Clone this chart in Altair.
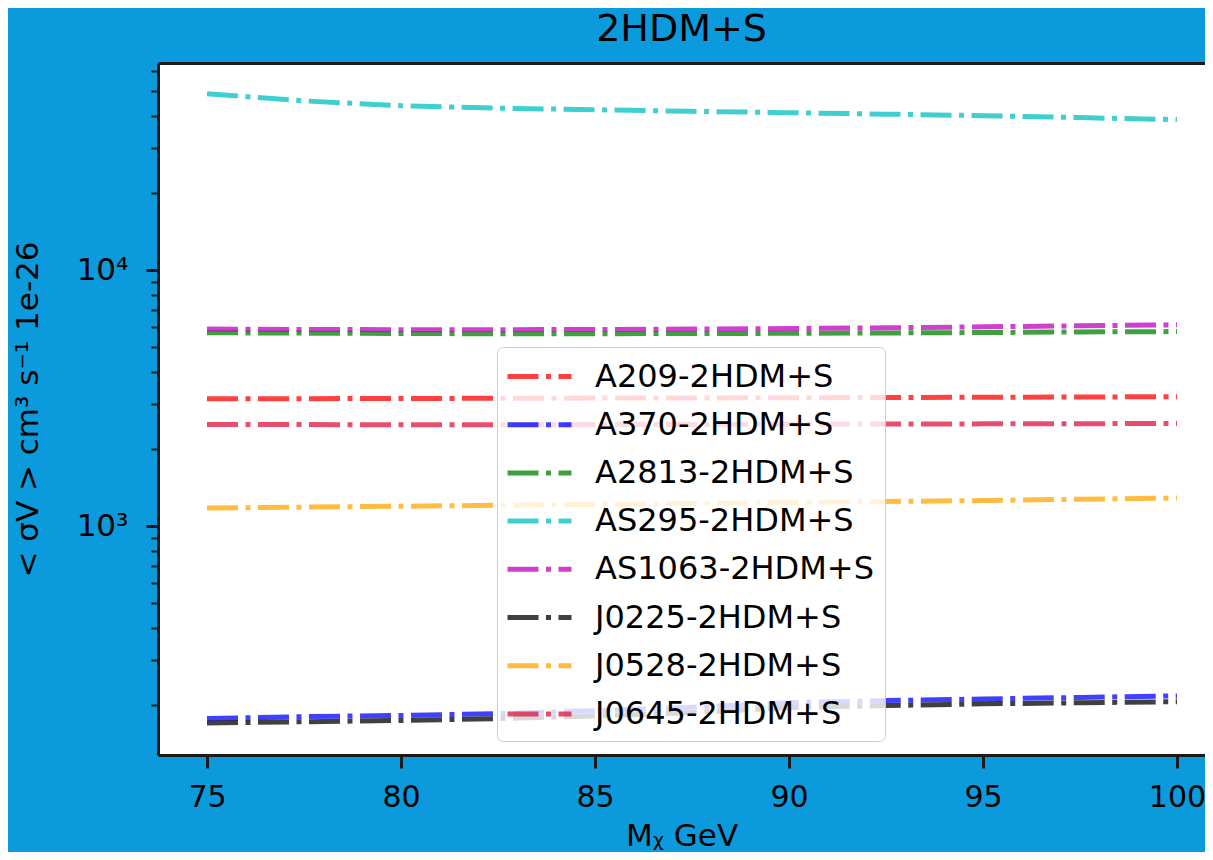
import altair as alt
import pandas as pd

series = ["A209-2HDM+S", "A370-2HDM+S", "A2813-2HDM+S", "AS295-2HDM+S",
          "AS1063-2HDM+S", "J0225-2HDM+S", "J0528-2HDM+S", "J0645-2HDM+S"]
colors = ["#ff0000", "#0000ff", "#008000", "#00bfbf",
          "#bf00bf", "#000000", "#ffa500", "#dc143c"]

mass = [75, 77.5, 80, 82.5, 85, 87.5, 90, 92.5, 95, 97.5, 100]

a209 = [3140, 3145, 3150, 3155, 3160, 3165, 3170, 3178, 3185, 3192, 3200]
a370 = [177, 180, 182, 185, 190, 196, 204, 208, 211, 214, 217]
a2813 = [5690, 5670, 5650, 5640, 5640, 5650, 5660, 5680, 5700, 5730, 5750]
as295 = [48870, 45800, 43850, 42900, 42290, 41700, 41190, 40650, 40110, 39400, 38700]
as1063 = [5880, 5860, 5850, 5850, 5860, 5880, 5910, 5950, 6000, 6060, 6110]
j0225 = [170, 172, 174, 177, 181, 187, 195, 199, 202, 204, 206]
j0528 = [1176, 1185, 1195, 1205, 1215, 1225, 1236, 1247, 1258, 1272, 1286]
j0645 = [2494, 2490, 2487, 2487, 2490, 2494, 2498, 2503, 2507, 2511, 2515]

values = [a209, a370, a2813, as295, as1063, j0225, j0528, j0645]

y_minor = [200, 300, 400, 500, 600, 700, 800, 900,
           2000, 3000, 4000, 5000, 6000, 7000, 8000, 9000,
           20000, 30000, 40000, 50000, 60000]
y_major = [1000, 10000]
x_ticks = [75, 80, 85, 90, 95, 100]

rows = []
for name, vals in zip(series, values):
    for m, v in zip(mass, vals):
        rows.append({"series": name, "mass": m, "value": v})
df = pd.DataFrame(rows)

BG = "#0b9bdc"
FONT = "DejaVu Sans"
FRAME = "#1a1a1a"
DASH = [31, 7.5, 5, 7.5]

major_test = "datum.value == 1000 || datum.value == 10000"

x_scale = alt.Scale(domain=[73.737, 100.722], nice=False, zero=False)
y_scale = alt.Scale(type="log", domain=[127.5, 64400], nice=False)

lines = alt.Chart(df).mark_line(
    strokeWidth=5, strokeDash=DASH, opacity=0.75, strokeCap="butt", clip=True
).encode(
    x=alt.X("mass:Q", scale=x_scale,
            axis=alt.Axis(values=x_ticks, format="d", title="Mᵪ GeV",
                          labelFontSize=30, titleFontSize=31, labelPadding=14,
                          titlePadding=9, tickSize=13, tickWidth=3,
                          domain=True, domainWidth=3, domainColor=FRAME)),
    y=alt.Y("value:Q", scale=y_scale,
            axis=alt.Axis(values=y_minor + y_major,
                          labelExpr="datum.value == 1000 ? '10³' : datum.value == 10000 ? '10⁴' : ''",
                          title="< σV > cm³ s⁻¹ 1e-26",
                          labelFontSize=31, titleFontSize=31, labelPadding=18,
                          titlePadding=32, labelOverlap=False,
                          domain=True, domainWidth=3, domainColor=FRAME,
                          tickSize={"condition": {"test": major_test, "value": 12}, "value": 7},
                          tickWidth={"condition": {"test": major_test, "value": 3}, "value": 2})),
    color=alt.Color("series:N", sort=series,
                    scale=alt.Scale(domain=series, range=colors),
                    legend=alt.Legend(title=None, orient="none", legendX=339, legendY=284,
                                      fillColor="rgba(255,255,255,0.8)", strokeColor="#cccccc",
                                      cornerRadius=6, padding=11,
                                      symbolType="M-2,0H2", symbolSize=1024,
                                      symbolStrokeWidth=5, symbolDash=DASH,
                                      symbolOpacity=0.75, symbolOffset=13,
                                      labelFontSize=32, labelFont=FONT, labelColor="black",
                                      labelOffset=37, rowPadding=13.2, labelLimit=500))
)

top_frame = alt.Chart(df).mark_point(opacity=0).encode(
    x=alt.X("mass:Q", scale=x_scale,
            axis=alt.Axis(orient="top", labels=False, ticks=False, title=None,
                          domain=True, domainWidth=3, domainColor=FRAME)),
    y=alt.Y("value:Q", scale=y_scale, axis=None),
)

chart = alt.layer(lines, top_frame).resolve_axis(
    x="independent", y="independent"
).properties(
    width=1047,
    height=692,
    padding={"left": 150, "top": 55, "right": 0, "bottom": 97},
    autosize=alt.AutoSizeParams(type="none"),
    background=BG,
    title=alt.Title("2HDM+S", fontSize=38, font=FONT, fontWeight="normal",
                    color="black", anchor="middle", baseline="alphabetic", offset=-24),
).configure_view(
    fill="white", strokeOpacity=0
).configure_axis(
    grid=False, labelFont=FONT, titleFont=FONT,
    labelColor="black", titleColor="black", tickColor=FRAME,
    titleFontWeight="normal"
)

chart.save("out.html", embed_options={"renderer": "svg", "actions": False})
